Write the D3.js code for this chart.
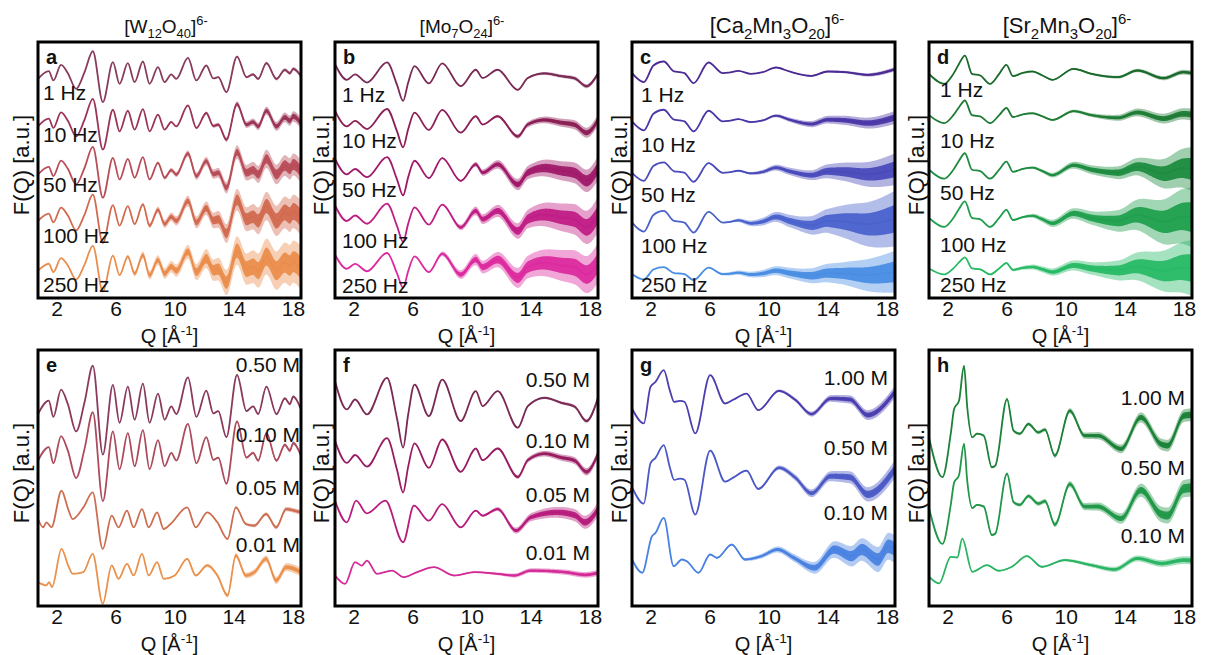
<!DOCTYPE html>
<html>
<head>
<meta charset="utf-8">
<script src="https://cdn.jsdelivr.net/npm/d3@7"></script>
<style>
  body { margin: 0; background: #fff; }
  text { font-family: "Liberation Sans", Arial, Helvetica, sans-serif; fill: #111; }
</style>
</head>
<body>
<svg id="chart" width="1205" height="655"></svg>
<script>
// ---- data (Q in 1/Å, F(Q) in arbitrary units) ----
const Q_DOMAIN = [0.75, 18.55];
const Q_TICKS = [2, 6, 10, 14, 18];
const Y_SPAN = 25.7;

const TITLES = [
  [['[W'], ['12', 'sub'], ['O'], ['40', 'sub'], [']'], ['6-', 'sup']],
  [['[Mo'], ['7', 'sub'], ['O'], ['24', 'sub'], [']'], ['6-', 'sup']],
  [['[Ca'], ['2', 'sub'], ['Mn'], ['3', 'sub'], ['O'], ['20', 'sub'], [']'], ['6-', 'sup']],
  [['[Sr'], ['2', 'sub'], ['Mn'], ['3', 'sub'], ['O'], ['20', 'sub'], [']'], ['6-', 'sup']]
];

// curve shapes [Q, F] relative to each trace's own baseline
const shapeW = [[0.75,-0.17],[1.48,0.6],[1.79,-0.33],[2.31,1.23],[2.77,0.4],[3.33,-1.17],[3.9,0.5],[4.46,2.6],[5.14,-2.5],[5.82,1.5],[6.27,-0.67],[6.83,1.4],[7.29,-0.5],[7.85,1.57],[8.3,-0.67],[8.87,1.0],[9.32,-0.5],[9.77,0.27],[10.11,-0.17],[10.9,1.93],[11.47,-0.33],[12.14,1.17],[12.62,-0.13],[12.95,0.0],[13.5,-1.5],[14.22,2.07],[14.86,0],[15.31,0.27],[15.65,-0.17],[16.21,1.4],[16.89,-0.17],[17.46,0.73],[17.8,0.4],[18.02,0.83],[18.55,0.1]];
const shapeW05 = [[0.75,-0.17],[1.1,-1.0],[1.32,-0.5],[1.66,-1.0],[2.34,2.67],[2.79,0.83],[3.09,-0.17],[3.82,1.0],[4.45,2.5],[5.13,-3.17],[5.74,0.17],[6.2,-1.0],[6.77,0.67],[7.22,-1.0],[7.79,0.83],[8.24,-1.0],[8.81,0.5],[9.26,-1.17],[9.72,-0.67],[10.85,1.0],[11.42,-1.0],[12.21,0.5],[12.89,-0.5],[13.58,-2.17],[14.14,1.0],[14.82,-0.67],[15.39,-0.83],[16.19,0.33],[16.87,-1.0],[17.55,0.83],[18.11,0.67],[18.55,0.5]];
const shapeWdil = [[0.75,-1.0],[1.32,-1.33],[1.5,-1.0],[1.7,-1.5],[2.34,2.33],[2.79,0.67],[3.1,-0.17],[3.82,0],[4.45,1.83],[5.13,-3.17],[5.74,0.67],[6.2,-0.67],[6.77,0.83],[7.22,-0.33],[7.79,1.83],[8.24,-0.33],[8.81,1.0],[9.26,-0.67],[10.0,-0.33],[10.85,1.33],[11.42,-0.33],[12.21,0.67],[12.89,-0.33],[13.58,-2.33],[14.14,1.67],[14.82,-0.33],[15.4,0],[16.19,1.33],[16.87,-0.83],[17.55,0.5],[18.55,0]];
const shapeMo = [[0.75,2.17],[1.55,-0.67],[2.11,0.33],[2.91,-1.17],[4.27,2.5],[4.95,-1.6],[5.36,-4.5],[5.7,-1.2],[6.13,1.83],[7.1,-1.33],[8.01,2.33],[9.26,-1.83],[10.28,1.17],[10.74,-0.33],[11.76,1.17],[13.12,-2.5],[13.8,-0.33],[14.94,0.5],[16.07,0],[16.98,-0.4],[17.77,-1.83],[18.55,0.5]];
const shapeMo05 = [[0.75,1.17],[1.55,-1.0],[2.18,1.17],[2.9,-0.1],[4.16,1.17],[5.36,-3.0],[6.09,0.67],[7.1,-0.83],[8.0,0.83],[9.26,-1.5],[10.28,0.17],[10.74,-0.33],[11.76,0.33],[13.0,-1.83],[14.0,-0.5],[15.8,0],[17.0,-0.3],[17.66,-1.0],[18.55,0.3]];
const shapeMo01 = [[0.75,-0.17],[1.43,-1.0],[2.11,1.17],[2.57,0.83],[2.91,1.33],[3.59,0],[4.61,0.33],[5.4,-0.33],[6.31,0.17],[7.45,0.67],[8.81,-0.17],[10.17,0.17],[11.76,0],[12.9,-0.17],[14.0,0.33],[16.3,0.17],[17.7,-0.1],[18.55,0.1]];
const shapeCa = [[0.75,0],[1.55,-0.9],[2.2,0.77],[2.9,1.17],[3.6,0.17],[4.0,0.1],[4.3,0],[4.92,-1.0],[5.93,1.07],[6.9,0],[7.3,0.05],[7.95,0.23],[8.8,-0.07],[9.6,0.1],[10.5,0.57],[11.4,0.17],[12.9,-0.27],[14.0,0.17],[15.2,0.1],[16.7,-0.17],[18.55,0.4]];
const shapeCaG = [[0.75,-0.67],[1.55,-2.17],[2.0,1.5],[2.34,2.0],[2.9,3.17],[3.3,1.2],[3.6,0],[4.0,0.1],[4.3,0],[5.03,-3.17],[6.04,2.67],[7.05,-0.17],[7.6,0.2],[8.5,0.83],[9.3,-0.83],[10.7,1.1],[11.8,0.2],[12.9,-1.23],[14.2,0.33],[15.5,0.23],[16.7,-1.33],[18.55,1.0]];
const shapeCaG01 = [[0.75,0],[1.44,-1.33],[2.1,2.33],[2.34,2.67],[2.9,4.17],[3.57,-0.67],[4.13,0],[4.46,-0.17],[5.25,-1.33],[6.04,0.5],[6.5,0.17],[7.5,1.5],[8.4,0],[9.5,0.33],[10.6,1.0],[11.7,0.17],[13.1,-0.83],[14.45,1.0],[15.6,0.33],[16.3,1.0],[17.4,0],[18.1,1.33],[18.55,1.0]];
const shapeSr = [[0.75,0.23],[1.78,-0.77],[2.4,0.23],[2.78,1.23],[3.18,2.07],[3.66,0.23],[4.22,0.07],[4.88,-0.77],[5.5,0.23],[5.99,1.13],[6.43,0],[7.1,0.33],[7.76,0.47],[8.43,0.07],[9.1,-0.37],[10.54,0.73],[11.76,0.23],[13.53,-0.1],[14.86,0.57],[16.63,-0.2],[17.96,0.4],[18.55,0.3]];
const shapeSrH = [[0.75,-0.67],[1.66,-4.67],[2.22,-0.33],[2.45,2.17],[2.78,3.0],[3.12,6.5],[3.34,2.33],[3.68,-0.67],[4.0,-0.3],[4.46,-0.5],[5.0,-3.67],[5.24,-3.5],[6.03,3.17],[6.47,0],[6.9,-0.3],[7.48,0.67],[8.15,-0.17],[8.6,0.1],[9.27,-2.5],[10.28,2.0],[11.28,-0.5],[12.18,-0.5],[13.75,-1.83],[15.09,1.33],[16.43,-1.33],[16.9,-1.5],[18.0,1.5],[18.55,1.6]];
const shapeSrH01 = [[0.75,-0.83],[1.44,-1.5],[2.22,1.17],[2.67,1.1],[3.0,3.0],[3.68,-0.33],[4.68,0.33],[5.47,-0.23],[6.36,0.17],[7.37,1.23],[8.38,0.17],[9.94,0.83],[11.73,0.33],[13.3,-0.1],[14.86,1.0],[16.5,0.5],[18.0,0.83],[18.55,0.8]];

// per-panel traces: labels, vertical offsets, amplitude scale, noise half-width [Q, F]
const labelsTop = ['1 Hz', '10 Hz', '50 Hz', '100 Hz', '250 Hz'];

const offsetsA = [22.17, 17.4, 12.57, 7.9, 2.9];
const scalesA = [1, 1, 1, 0.95, 0.9];
const noiseA = [
  [[0.75,0],[12,0.04],[15,0.12],[18.55,0.2]],
  [[0.75,0],[10,0.05],[13,0.2],[16,0.4],[18.55,0.55]],
  [[0.75,0],[8,0.05],[10,0.25],[13,0.5],[15,0.8],[18.55,1.15]],
  [[0.75,0],[7,0.05],[9,0.35],[12,0.65],[14,1.05],[16,1.4],[18.55,1.75]],
  [[0.75,0],[6,0.05],[8,0.4],[11,0.7],[13,1.15],[15,1.6],[18.55,2.2]]
];

const offsetsB = [22.27, 17.6, 12.77, 8.1, 3.27];
const scalesB = [0.55, 0.55, 0.55, 0.55, 0.5];
const noiseB = [
  [[0.75,0],[13,0.06],[15,0.15],[18.55,0.22]],
  [[0.75,0],[11,0.06],[13,0.22],[16,0.4],[18.55,0.55]],
  [[0.75,0],[9,0.06],[11,0.35],[13,0.55],[15,0.85],[18.55,1.2]],
  [[0.75,0],[8,0.06],[10,0.4],[13,0.75],[15,1.2],[18.55,1.8]],
  [[0.75,0],[7,0.06],[9,0.4],[12,0.8],[15,1.35],[18.55,2.0]]
];

const offsetsC = [22.57, 17.73, 12.57, 7.57, 2.4];
const scalesC = [1, 1, 0.9, 1, 0.6];
const noiseC = [
  [[0.75,0],[12,0.05],[15,0.12],[18.55,0.22]],
  [[0.75,0],[9,0.06],[12,0.25],[15,0.45],[18.55,0.65]],
  [[0.75,0],[8,0.06],[10,0.25],[13,0.5],[15,0.9],[18.55,1.6]],
  [[0.75,0],[7,0.06],[9,0.3],[12,0.7],[14,1.2],[16,2.0],[18.55,2.8]],
  [[0.75,0],[6,0.06],[9,0.3],[12,0.6],[15,1.1],[17,1.7],[18.55,2.1]]
];

const offsetsD = [22.27, 18.17, 12.67, 7.83, 2.83];
const scalesD = [1, 0.8, 0.9, 0.9, 0.6];
const noiseD = [
  [[0.75,0],[8,0.05],[14,0.15],[18.55,0.25]],
  [[0.75,0],[8,0.06],[12,0.2],[15,0.4],[18.55,0.6]],
  [[0.75,0],[7,0.06],[10,0.3],[13,0.55],[15,0.9],[17,1.6],[18.55,2.2]],
  [[0.75,0],[7,0.1],[9,0.35],[12,0.7],[14,1.2],[16,2.0],[18.55,3.0]],
  [[0.75,0],[6,0.1],[9,0.35],[12,0.65],[14,1.1],[16,1.8],[18.55,2.8]]
];

const labelsE = ['0.50 M', '0.10 M', '0.05 M', '0.01 M'];
const offsetsE = [19.57, 14.9, 8.9, 3.4];
const scalesE = [1.75, 1.75, 1, 1];
const noiseE = [
  [[0.75,0],[12,0.04],[18.55,0.15]],
  [[0.75,0],[12,0.06],[18.55,0.2]],
  [[0.75,0],[12,0.06],[18.55,0.25]],
  [[0.75,0],[10,0.06],[14,0.25],[18.55,0.45]]
];

const labelsF = ['0.50 M', '0.10 M', '0.05 M', '0.01 M'];
const offsetsF = [20.4, 14.9, 9.4, 3.23];
const scalesF = [1, 0.78, 1, 1];
const noiseF = [
  [[0.75,0],[12,0.06],[18.55,0.2]],
  [[0.75,0],[11,0.06],[14,0.25],[18.55,0.4]],
  [[0.75,0],[10,0.06],[13,0.3],[15,0.5],[18.55,0.7]],
  [[0.75,0],[10,0.06],[13,0.2],[18.55,0.3]]
];

const labelsG = ['1.00 M', '0.50 M', '0.10 M'];
const offsetsG = [20.5, 12.67, 4.67];
const scalesG = [1, 1.1, 1];
const noiseG = [
  [[0.75,0],[9,0.06],[13,0.25],[16,0.45],[18.55,0.6]],
  [[0.75,0],[9,0.1],[13,0.4],[16,0.65],[18.55,0.9]],
  [[0.75,0],[8,0.12],[12,0.4],[14,0.75],[16,1.1],[18.55,1.4]]
];

const labelsH = ['1.00 M', '0.50 M', '0.10 M'];
const offsetsH = [17.6, 10.43, 3.77];
const scalesH = [1, 0.9, 1];
const noiseH = [
  [[0.75,0],[3,0.06],[9,0.2],[13,0.4],[16,0.55],[18.55,0.65]],
  [[0.75,0],[3,0.06],[9,0.25],[13,0.45],[16,0.75],[18.55,0.9]],
  [[0.75,0],[9,0.1],[13,0.25],[18.55,0.4]]
];

// ---- styles / layout ----
const colorsA = ['#893b5e', '#9b3456', '#b84c57', '#d26a4f', '#ea8d4c'];
const colorsB = ['#7a2a55', '#8c1f55', '#a0196a', '#c01d86', '#dc2a9f'];
const colorsC = ['#4c2a94', '#4c37a8', '#4a4bba', '#4a62cc', '#4a8ee4'];
const colorsD = ['#1a6a2c', '#1f7c35', '#1d8c40', '#20a04e', '#28bb66'];
const colorsE = ['#8b3a5d', '#ad4b5c', '#cd6e52', '#ea914d'];
const colorsF = ['#7a2a55', '#991c62', '#b71c7d', '#d32a97'];
const colorsG = ['#4b3fb0', '#4b58c6', '#4a82e2'];
const colorsH = ['#1c8238', '#219748', '#2ab463'];

const BOX_LEFT = [38, 335, 632, 929];
const BOX_W = 263;
const BOX_TOP = [42, 350];
const BOX_H = 256;
const TITLE_X = [166, 462, 777, 1067];
const TITLE_SIZE = [19, 19, 22, 22];
const YLABEL_X = [21, 321, 619, 916];

const panels = [
  { id: 'a', col: 0, row: 0, shapes: [shapeW, shapeW, shapeW, shapeW, shapeW], labels: labelsTop, offsets: offsetsA, scales: scalesA, noise: noiseA, colors: colorsA, labelX: 43, labelY: [100, 142, 192, 243, 292] },
  { id: 'b', col: 1, row: 0, shapes: [shapeMo, shapeMo, shapeMo, shapeMo, shapeMo], labels: labelsTop, offsets: offsetsB, scales: scalesB, noise: noiseB, colors: colorsB, labelX: 342, labelY: [102, 148, 197, 248, 293] },
  { id: 'c', col: 2, row: 0, shapes: [shapeCa, shapeCa, shapeCa, shapeCa, shapeCa], labels: labelsTop, offsets: offsetsC, scales: scalesC, noise: noiseC, colors: colorsC, labelX: 641, labelY: [102, 152, 202, 253, 292] },
  { id: 'd', col: 3, row: 0, shapes: [shapeSr, shapeSr, shapeSr, shapeSr, shapeSr], labels: labelsTop, offsets: offsetsD, scales: scalesD, noise: noiseD, colors: colorsD, labelX: 940, labelY: [97, 148, 200, 252, 292] },
  { id: 'e', col: 0, row: 1, shapes: [shapeW, shapeW, shapeW05, shapeWdil], labels: labelsE, offsets: offsetsE, scales: scalesE, noise: noiseE, colors: colorsE, labelRight: 300, labelY: [372, 442, 495, 552] },
  { id: 'f', col: 1, row: 1, shapes: [shapeMo, shapeMo, shapeMo05, shapeMo01], labels: labelsF, offsets: offsetsF, scales: scalesF, noise: noiseF, colors: colorsF, labelRight: 590, labelY: [387, 448, 502, 560] },
  { id: 'g', col: 2, row: 1, shapes: [shapeCaG, shapeCaG, shapeCaG01], labels: labelsG, offsets: offsetsG, scales: scalesG, noise: noiseG, colors: colorsG, labelRight: 888, labelY: [385, 455, 520] },
  { id: 'h', col: 3, row: 1, shapes: [shapeSrH, shapeSrH, shapeSrH01], labels: labelsH, offsets: offsetsH, scales: scalesH, noise: noiseH, colors: colorsH, labelRight: 1185, labelY: [405, 475, 543] }
];

const svg = d3.select('#chart');

// text with sub/superscripts
function richText(sel, parts, size) {
  let shift = 0;
  parts.forEach(([t, kind]) => {
    const target = kind === 'sub' ? size * 0.28 : kind === 'sup' ? -size * 0.42 : 0;
    sel.append('tspan')
      .attr('dy', target - shift)
      .attr('font-size', kind ? size * 0.68 : size)
      .text(t);
    shift = target;
  });
}

function drawCurve(g, x, y, shape, offset, scale, noise, color) {
  const line = d3.line()
    .x(d => x(d[0]))
    .y(d => y(offset + scale * d[1]))
    .curve(d3.curveMonotoneX);

  const outer = g.append('path');
  const inner = g.append('path');
  const path = g.append('path')
    .attr('d', line(shape))
    .attr('fill', 'none')
    .attr('stroke', color)
    .attr('stroke-width', 1.8)
    .attr('stroke-linejoin', 'round');

  // noise envelope: faint outer spikes, dense core
  const env = d3.scaleLinear().domain(noise.map(n => n[0])).range(noise.map(n => n[1])).clamp(true);
  const node = path.node();
  const len = node.getTotalLength();
  const pts = d3.range(0, len, 0.6).map(l => node.getPointAtLength(l));
  const unit = y(0) - y(1);
  const band = k => d3.area()
    .x(p => p.x)
    .y0(p => p.y - k * env(x.invert(p.x)) * unit)
    .y1(p => p.y + k * env(x.invert(p.x)) * unit);
  outer.attr('d', band(1)(pts)).attr('fill', color).attr('fill-opacity', 0.42);
  inner.attr('d', band(0.5)(pts)).attr('fill', color).attr('fill-opacity', 0.95);
}

panels.forEach(p => {
  const left = BOX_LEFT[p.col], top = BOX_TOP[p.row];
  const x = d3.scaleLinear().domain(Q_DOMAIN).range([left, left + BOX_W]);
  const y = d3.scaleLinear().domain([0, Y_SPAN]).range([top + BOX_H, top]);

  const clipId = 'clip-' + p.id;
  svg.append('clipPath').attr('id', clipId)
    .append('rect').attr('x', left).attr('y', top).attr('width', BOX_W).attr('height', BOX_H);

  const g = svg.append('g').attr('clip-path', `url(#${clipId})`);
  p.shapes.forEach((shape, k) => {
    drawCurve(g, x, y, shape, p.offsets[k], p.scales[k], p.noise[k], p.colors[k]);
  });

  // trace labels
  p.labels.forEach((lab, k) => {
    const t = svg.append('text')
      .attr('y', p.labelY[k])
      .attr('font-size', 21)
      .text(lab);
    if (p.labelRight) t.attr('x', p.labelRight).attr('text-anchor', 'end');
    else t.attr('x', p.labelX);
  });

  // panel letter
  svg.append('text')
    .attr('x', left + 8)
    .attr('y', top + 22)
    .attr('font-size', 20)
    .attr('font-weight', 'bold')
    .text(p.id);

  // frame
  svg.append('rect')
    .attr('x', left).attr('y', top)
    .attr('width', BOX_W).attr('height', BOX_H)
    .attr('fill', 'none')
    .attr('stroke', '#000')
    .attr('stroke-width', 3);

  // x axis (labels only)
  const ax = svg.append('g')
    .attr('transform', `translate(0,${top + BOX_H})`)
    .call(d3.axisBottom(x).tickValues(Q_TICKS).tickSize(0).tickPadding(3));
  ax.select('.domain').remove();
  ax.selectAll('text')
    .attr('font-size', 21)
    .attr('font-family', '"Liberation Sans", Arial, sans-serif')
    .attr('fill', '#111');

  const xl = svg.append('text')
    .attr('x', left + BOX_W / 2)
    .attr('y', top + BOX_H + 45)
    .attr('text-anchor', 'middle');
  richText(xl, [['Q [Å'], ['-1', 'sup'], [']']], 20);

  svg.append('text')
    .attr('transform', `translate(${YLABEL_X[p.col]},${top + BOX_H / 2 - 5}) rotate(-90)`)
    .attr('text-anchor', 'middle')
    .attr('dy', '0.35em')
    .attr('font-size', 22)
    .text('F(Q) [a.u.]');
});

// compound titles over the top row
TITLES.forEach((parts, i) => {
  const t = svg.append('text')
    .attr('x', TITLE_X[i])
    .attr('y', 33)
    .attr('text-anchor', 'middle');
  richText(t, parts, TITLE_SIZE[i]);
});
</script>
</body>
</html>
